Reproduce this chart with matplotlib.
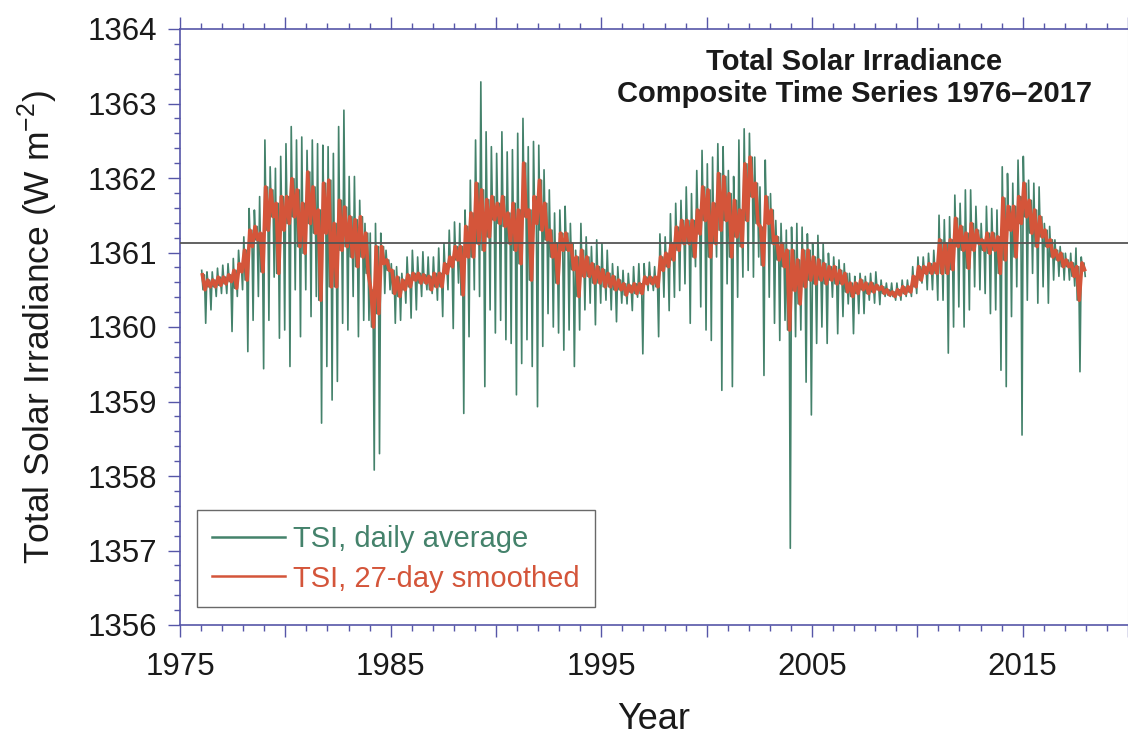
import numpy as np
import matplotlib
matplotlib.use("Agg")
import matplotlib.pyplot as plt
from matplotlib.ticker import MultipleLocator, FuncFormatter

plt.rcParams['font.family'] = ['Liberation Sans', 'DejaVu Sans']
plt.rcParams['mathtext.fontset'] = 'custom'
plt.rcParams['mathtext.rm'] = 'Liberation Sans'

# quarterly samples (start of each quarter, 1976.00 ... 2017.75)
quarter_start = np.arange(1976.0, 2018.0, 0.25)

# daily series: highest and lowest value reached in each quarter
daily_high = [
    1360.76, 1360.74, 1360.74, 1360.79,  # 1976
    1360.83, 1360.85, 1360.92, 1361.03,
    1361.21, 1361.59, 1361.57, 1361.75,
    1362.51, 1362.15, 1362.13, 1362.29,
    1362.46, 1362.69, 1362.51, 1362.55,  # 1980
    1362.37, 1362.51, 1362.46, 1362.44,
    1362.42, 1362.33, 1362.69, 1362.91,
    1362.02, 1362.02, 1361.70, 1361.39,
    1361.26, 1361.39, 1361.26, 1361.03,
    1360.85, 1360.81, 1360.72, 1360.94,  # 1985
    1361.03, 1360.94, 1361.01, 1360.94,
    1360.94, 1361.06, 1361.12, 1361.30,
    1361.41, 1361.39, 1361.57, 1361.97,
    1362.51, 1363.29, 1362.62, 1362.42,
    1362.33, 1362.62, 1362.35, 1362.38,  # 1990
    1362.60, 1362.80, 1362.42, 1362.49,
    1362.44, 1362.11, 1361.84, 1361.53,
    1361.57, 1361.62, 1361.39, 1361.03,
    1361.39, 1361.21, 1361.08, 1361.17,
    1361.12, 1361.03, 1360.85, 1360.81,  # 1995
    1360.76, 1360.72, 1360.81, 1360.85,
    1360.85, 1360.87, 1360.81, 1361.25,
    1361.21, 1361.52, 1361.66, 1361.70,
    1361.88, 1361.79, 1362.10, 1362.37,
    1362.19, 1362.28, 1362.46, 1362.42,  # 2000
    1362.10, 1362.02, 1362.51, 1362.66,
    1362.60, 1362.28, 1361.88, 1362.24,
    1361.79, 1361.43, 1361.39, 1361.30,
    1361.34, 1361.39, 1361.34, 1361.25,
    1361.12, 1361.23, 1361.12, 1360.99,  # 2005
    1360.94, 1360.90, 1360.85, 1360.72,
    1360.68, 1360.72, 1360.68, 1360.72,
    1360.74, 1360.63, 1360.59, 1360.59,
    1360.59, 1360.63, 1360.63, 1360.81,
    1360.94, 1360.94, 1360.99, 1361.03,  # 2010
    1361.50, 1361.44, 1361.48, 1361.77,
    1361.66, 1361.84, 1361.84, 1361.62,
    1361.39, 1361.62, 1361.59, 1361.57,
    1362.15, 1362.06, 1361.93, 1362.24,
    1362.29, 1361.97, 1361.93, 1361.88,  # 2015
    1361.39, 1361.35, 1361.17, 1361.08,
    1360.99, 1360.99, 1361.06, 1360.94,
]
daily_low = [
    1360.05, 1360.23, 1360.41, 1360.45,  # 1976
    1360.45, 1359.94, 1360.41, 1360.50,
    1359.67, 1360.09, 1360.41, 1359.44,
    1360.09, 1360.67, 1359.85, 1359.96,
    1359.47, 1360.50, 1359.87, 1360.50,  # 1980
    1360.14, 1360.41, 1358.71, 1359.47,
    1359.02, 1359.27, 1360.05, 1359.96,
    1360.41, 1359.87, 1360.09, 1360.09,
    1358.08, 1358.30, 1360.45, 1360.50,
    1360.05, 1360.09, 1360.32, 1360.12,  # 1985
    1360.23, 1360.41, 1360.50, 1360.45,
    1360.36, 1360.14, 1360.50, 1359.98,
    1360.59, 1358.84, 1359.87, 1360.50,
    1360.41, 1359.20, 1360.23, 1359.92,
    1360.09, 1359.83, 1359.78, 1359.09,  # 1990
    1359.51, 1359.83, 1359.47, 1358.93,
    1359.74, 1360.18, 1360.00, 1359.92,
    1359.69, 1359.96, 1359.47, 1359.96,
    1360.23, 1360.32, 1360.03, 1360.32,
    1360.36, 1360.23, 1360.07, 1360.32,  # 1995
    1360.31, 1360.22, 1360.40, 1359.64,
    1360.49, 1360.49, 1359.87, 1360.40,
    1360.22, 1360.40, 1360.49, 1360.58,
    1360.05, 1360.81, 1360.27, 1359.96,
    1359.82, 1360.94, 1359.15, 1360.58,  # 2000
    1359.20, 1360.40, 1360.67, 1360.76,
    1360.67, 1360.94, 1359.35, 1360.40,
    1360.05, 1359.82, 1360.09, 1357.03,
    1359.87, 1359.96, 1359.26, 1358.82,
    1359.78, 1360.00, 1359.78, 1360.40,  # 2005
    1359.91, 1360.14, 1360.31, 1359.91,
    1360.18, 1360.18, 1360.36, 1360.32,
    1360.30, 1360.41, 1360.41, 1360.36,
    1360.36, 1360.41, 1360.41, 1360.45,
    1360.59, 1360.50, 1360.50, 1360.36,  # 2010
    1360.36, 1359.65, 1360.00, 1360.27,
    1360.00, 1360.23, 1360.54, 1360.50,
    1360.45, 1360.18, 1360.23, 1359.42,
    1359.20, 1360.14, 1360.54, 1358.55,
    1360.36, 1360.72, 1360.32, 1360.54,  # 2015
    1360.32, 1360.63, 1360.68, 1360.63,
    1360.63, 1360.55, 1359.40, 1360.68,
]

# 27-day smoothed series: upper and lower swing in each quarter
smooth_high = [
    1360.70, 1360.63, 1360.63, 1360.67,  # 1976
    1360.67, 1360.70, 1360.76, 1360.85,
    1361.03, 1361.30, 1361.35, 1361.26,
    1361.88, 1361.84, 1361.66, 1361.75,
    1361.75, 1361.99, 1361.84, 1361.66,  # 1980
    1362.08, 1361.88, 1361.57, 1361.93,
    1361.97, 1361.39, 1361.70, 1361.61,
    1361.48, 1361.44, 1361.48, 1361.26,
    1360.50, 1361.08, 1361.08, 1360.90,
    1360.76, 1360.67, 1360.63, 1360.70,  # 1985
    1360.72, 1360.72, 1360.70, 1360.68,
    1360.72, 1360.72, 1360.85, 1360.94,
    1361.08, 1361.08, 1361.35, 1361.53,
    1361.93, 1361.84, 1361.71, 1361.75,
    1361.66, 1361.75, 1361.53, 1361.66,  # 1990
    1361.57, 1362.20, 1361.57, 1361.75,
    1361.97, 1361.66, 1361.30, 1361.12,
    1361.26, 1361.26, 1361.12, 1360.94,
    1361.03, 1360.94, 1360.85, 1360.81,
    1360.77, 1360.72, 1360.68, 1360.63,  # 1995
    1360.58, 1360.56, 1360.58, 1360.58,
    1360.67, 1360.67, 1360.67, 1360.94,
    1360.99, 1361.12, 1361.34, 1361.43,
    1361.43, 1361.43, 1361.57, 1361.88,
    1361.84, 1361.66, 1362.06, 1362.02,  # 2000
    1361.79, 1361.70, 1361.57, 1362.19,
    1362.28, 1361.93, 1361.34, 1361.75,
    1361.57, 1361.21, 1361.12, 1361.03,
    1361.03, 1360.90, 1361.03, 1361.03,
    1360.94, 1360.90, 1360.85, 1360.81,  # 2005
    1360.81, 1360.76, 1360.72, 1360.59,
    1360.59, 1360.63, 1360.59, 1360.59,
    1360.56, 1360.54, 1360.50, 1360.47,
    1360.50, 1360.54, 1360.54, 1360.68,
    1360.81, 1360.81, 1360.85, 1360.85,  # 2010
    1361.17, 1361.12, 1361.17, 1361.46,
    1361.35, 1361.26, 1361.39, 1361.30,
    1361.17, 1361.26, 1361.26, 1361.21,
    1361.73, 1361.62, 1361.62, 1361.75,
    1361.93, 1361.70, 1361.57, 1361.48,  # 2015
    1361.30, 1361.17, 1361.03, 1360.99,
    1360.90, 1360.86, 1360.81, 1360.86,
]
smooth_low = [
    1360.50, 1360.54, 1360.54, 1360.56,  # 1976
    1360.58, 1360.61, 1360.52, 1360.74,
    1360.63, 1361.08, 1361.17, 1360.74,
    1361.30, 1361.48, 1360.72, 1361.30,
    1361.39, 1361.48, 1361.08, 1360.99,  # 1980
    1361.39, 1361.26, 1360.36, 1361.26,
    1360.54, 1360.54, 1361.03, 1361.08,
    1360.94, 1360.81, 1360.94, 1360.72,
    1360.00, 1360.18, 1360.85, 1360.76,
    1360.45, 1360.41, 1360.50, 1360.54,  # 1985
    1360.63, 1360.59, 1360.59, 1360.50,
    1360.54, 1360.54, 1360.72, 1360.81,
    1360.90, 1360.43, 1360.94, 1360.94,
    1361.12, 1361.03, 1361.21, 1361.44,
    1361.39, 1361.35, 1361.12, 1361.03,  # 1990
    1360.85, 1361.48, 1360.63, 1361.39,
    1361.30, 1361.17, 1360.94, 1360.59,
    1361.03, 1361.03, 1360.77, 1360.41,
    1360.68, 1360.68, 1360.59, 1360.59,
    1360.54, 1360.54, 1360.50, 1360.50,  # 1995
    1360.43, 1360.47, 1360.45, 1360.45,
    1360.58, 1360.58, 1360.54, 1360.76,
    1360.81, 1360.90, 1361.03, 1361.12,
    1361.12, 1360.94, 1361.25, 1361.43,
    1360.94, 1361.12, 1361.30, 1361.43,  # 2000
    1360.94, 1361.21, 1361.08, 1361.43,
    1361.75, 1361.39, 1360.83, 1361.39,
    1361.12, 1360.90, 1360.81, 1359.96,
    1360.49, 1360.31, 1360.54, 1360.63,
    1360.58, 1360.63, 1360.58, 1360.63,  # 2005
    1360.58, 1360.58, 1360.47, 1360.41,
    1360.45, 1360.50, 1360.45, 1360.47,
    1360.50, 1360.45, 1360.43, 1360.41,
    1360.43, 1360.45, 1360.47, 1360.54,
    1360.63, 1360.72, 1360.72, 1360.72,  # 2010
    1360.72, 1360.72, 1360.77, 1361.08,
    1361.03, 1360.79, 1361.03, 1361.12,
    1361.03, 1360.99, 1361.03, 1360.72,
    1360.90, 1361.30, 1360.94, 1361.39,
    1361.48, 1361.26, 1361.08, 1361.21,  # 2015
    1361.08, 1360.94, 1360.90, 1360.81,
    1360.81, 1360.68, 1360.36, 1360.77,
]

reference_level = 1361.13
title_text = "Total Solar Irradiance\nComposite Time Series 1976\u20132017"

green = '#44826b'
red = '#d4553a'
axis_blue = '#5656a8'

t = np.asarray(quarter_start)

# daily trace: spike up, back to the smoothed band, spike down, within each quarter
xd = np.column_stack([t + 0.03, t + 0.09, t + 0.16, t + 0.22]).ravel()
yd = np.column_stack([daily_high, smooth_low, smooth_high, daily_low]).ravel()
# smoothed trace: upper and lower swing within each quarter
xs = np.column_stack([t + 0.0625, t + 0.1875]).ravel()
ys = np.column_stack([smooth_high, smooth_low]).ravel()

fig = plt.figure(figsize=(11.28, 7.36), dpi=100)
ax = fig.add_axes([180 / 1128, 111 / 736, 948 / 1128, 596 / 736])

ax.plot(xd, yd, color=green, lw=1.2, label='TSI, daily average')
ax.plot(xs, ys, color=red, lw=2.6, label='TSI, 27-day smoothed')
ax.axhline(reference_level, color='#555555', lw=1.3, zorder=5)

ax.set_xlim(1975, 2020)
ax.set_ylim(1356, 1364)

ax.xaxis.set_major_locator(MultipleLocator(5))
ax.xaxis.set_minor_locator(MultipleLocator(1))
ax.xaxis.set_major_formatter(FuncFormatter(lambda v, p: '%d' % v if int(round(v)) % 10 == 5 else ''))
ax.yaxis.set_major_locator(MultipleLocator(1))
ax.yaxis.set_minor_locator(MultipleLocator(0.2))

ax.tick_params(which='both', direction='out', color=axis_blue, width=1.0,
               top=True, right=False, labelsize=22.5, labelcolor='#1a1a1a')
ax.tick_params(which='major', length=8.6)
ax.tick_params(which='minor', length=4.3)
ax.tick_params(axis='x', which='major', pad=11)
ax.tick_params(axis='y', which='major', pad=8)

for side in ['left', 'bottom', 'top']:
    ax.spines[side].set_color(axis_blue)
    ax.spines[side].set_linewidth(1.2)
ax.spines['right'].set_color('#cccccc')

ax.set_xlabel('Year', fontsize=26, color='#1a1a1a', labelpad=14)
ax.set_ylabel('Total Solar Irradiance (W m$^{-2}$)', fontsize=25.5, color='#1a1a1a', labelpad=20)

ax.text(0.7115, 0.918, title_text, transform=ax.transAxes, ha='center', va='center',
        fontsize=21, fontweight='bold', color='#1a1a1a', linespacing=1.15)

leg = ax.legend(loc='lower left', bbox_to_anchor=(0.018, 0.030), borderaxespad=0,
                fontsize=21, frameon=True, fancybox=False, edgecolor='#444444',
                handlelength=2.5, handletextpad=0.3, borderpad=0.5, labelspacing=0.4,
                labelcolor='linecolor')
leg.get_frame().set_linewidth(1.0)
for h in leg.get_lines():
    h.set_linewidth(1.8)

fig.savefig('out.png', dpi=100)
